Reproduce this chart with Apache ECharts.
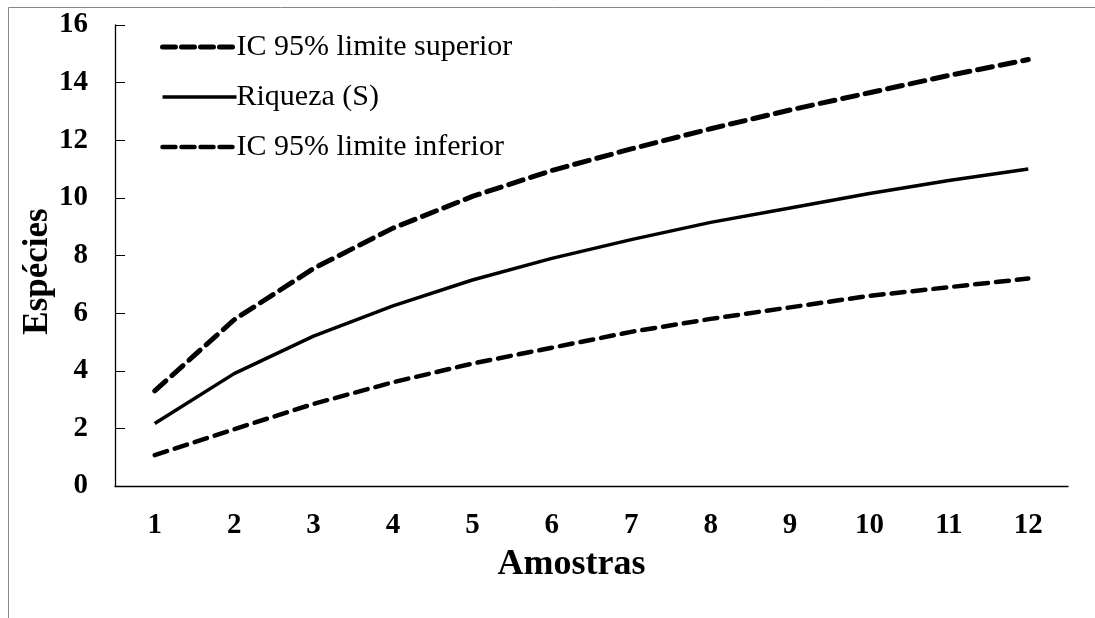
<!DOCTYPE html>
<html>
<head>
<meta charset="utf-8">
<style>html,body{margin:0;padding:0;background:#fff}#c{width:1095px;height:618px}</style>
<script src="https://cdn.jsdelivr.net/npm/echarts@6/dist/echarts.min.js"></script>
</head>
<body>
<div id="c"></div>
<script>
var categories = ['1','2','3','4','5','6','7','8','9','10','11','12'];
var upper = [3.3, 5.77, 7.55, 8.95, 10.05, 10.95, 11.7, 12.4, 13.05, 13.65, 14.25, 14.8];
var riqueza = [2.17, 3.9, 5.2, 6.25, 7.15, 7.9, 8.55, 9.15, 9.65, 10.15, 10.6, 11.0];
var lower = [1.07, 1.97, 2.85, 3.6, 4.25, 4.8, 5.35, 5.8, 6.2, 6.6, 6.9, 7.2];
var names = ['IC 95% limite superior', 'Riqueza (S)', 'IC 95% limite inferior'];

var chart = echarts.init(document.getElementById('c'));
var font = 'Liberation Serif';
chart.setOption({
  backgroundColor: '#fff',
  animation: false,
  graphic: [{
    type: 'rect', silent: true,
    shape: {x: 8.5, y: 7.5, width: 1200, height: 700},
    style: {fill: 'none', stroke: '#888', lineWidth: 1}
  }],
  grid: {left: 115, right: 27, top: 25, bottom: 132},
  legend: {
    orient: 'vertical', left: 155, top: 27,
    itemWidth: 74, itemHeight: 20, itemGap: 20,
    itemStyle: {opacity: 0},
    textStyle: {fontFamily: font, fontSize: 30, color: '#000', padding: [0,0,0,-5]},
    data: [
      {name: names[0], lineStyle: {width: 5, type: [13, 6], cap: 'round'}},
      {name: names[1], lineStyle: {width: 3.5}},
      {name: names[2], lineStyle: {width: 4.5, type: [13, 6], cap: 'round'}}
    ]
  },
  xAxis: {
    type: 'category', data: categories, boundaryGap: true,
    name: 'Amostras', nameLocation: 'middle', nameGap: 61, nameMoveOverlap: false,
    nameTextStyle: {fontFamily: font, fontSize: 36, fontWeight: 'bold', color: '#000', padding: [0, 40, 0, 0]},
    axisLine: {lineStyle: {color: '#000', width: 1.3}},
    axisTick: {inside: true, length: 10, lineStyle: {color: '#000'}},
    axisLabel: {fontFamily: font, fontSize: 29, fontWeight: 'bold', color: '#000', margin: 25}
  },
  yAxis: {
    type: 'value', min: 0, max: 16, interval: 2,
    name: 'Espécies', nameLocation: 'middle', nameGap: 60, nameRotate: 90, nameMoveOverlap: false,
    nameTextStyle: {fontFamily: font, fontSize: 35, fontWeight: 'bold', color: '#000', padding: [0, 32, 0, 0]},
    axisLine: {show: true, lineStyle: {color: '#000', width: 1.3}},
    axisTick: {show: true, inside: true, length: 10, lineStyle: {color: '#000'}},
    axisLabel: {fontFamily: font, fontSize: 29, fontWeight: 'bold', color: '#000', margin: 27},
    splitLine: {show: false}
  },
  series: [
    {name: names[0], type: 'line', data: upper, showSymbol: false, symbol: 'none',
     itemStyle: {color: '#000'},
     lineStyle: {color: '#000', width: 5, type: [15, 8], cap: 'round'}},
    {name: names[1], type: 'line', data: riqueza, showSymbol: false, symbol: 'none',
     itemStyle: {color: '#000'},
     lineStyle: {color: '#000', width: 3.5, type: 'solid'}},
    {name: names[2], type: 'line', data: lower, showSymbol: false, symbol: 'none',
     itemStyle: {color: '#000'},
     lineStyle: {color: '#000', width: 4.5, type: [13, 8], cap: 'round'}}
  ]
});
</script>
</body>
</html>
